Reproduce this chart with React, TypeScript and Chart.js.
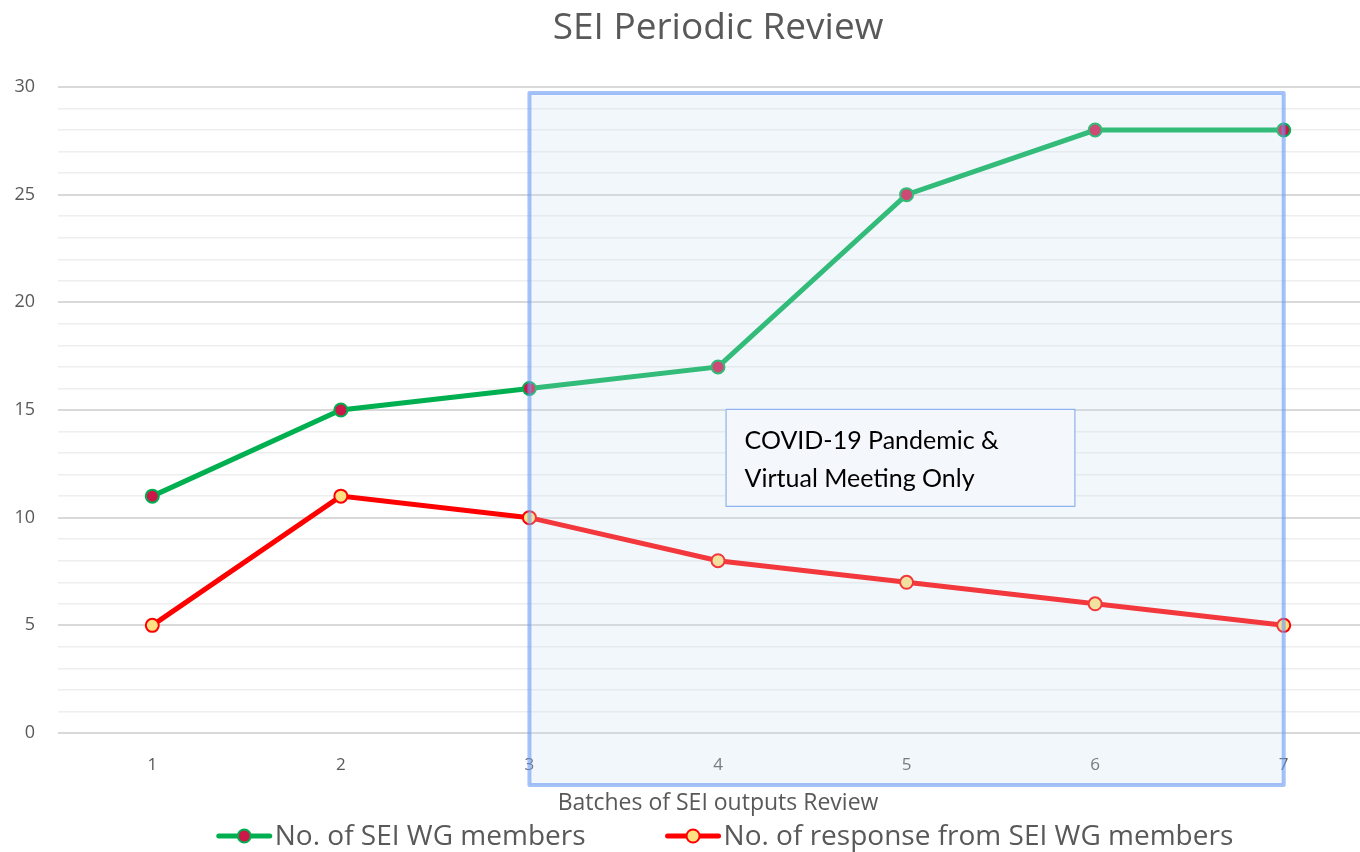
import React, { useEffect, useRef } from "react";
import { Chart, registerables } from "chart.js";

Chart.register(...registerables);

const categories = ["1", "2", "3", "4", "5", "6", "7"];
const wgMembers = [11, 15, 16, 17, 25, 28, 28];
const responses = [5, 11, 10, 8, 7, 6, 5];
const yTicks = [0, 5, 10, 15, 20, 25, 30];

const titleText = "SEI Periodic Review";
const xTitleText = "Batches of SEI outputs Review";
const seriesNames = ["No. of SEI WG members", "No. of response from SEI WG members"];
const noteLines = ["COVID-19 Pandemic &", "Virtual Meeting Only"];
// highlight region in category-index / value units
const highlightX = [2, 6];
const highlightY = [29.72, -2.42];
const noteX = [3.04, 4.89];
const noteY = [15.05, 10.55];

const GREEN = "#00b050";
const RED = "#ff0000";
const GREEN_PT = "#cc1848";
const RED_PT = "#ffe083";
const TEXT = "#595959";
const FONT = "'Open Sans', sans-serif";
const NOTE_FONT = "Lato, sans-serif";

const seriesColors = [
  [GREEN, GREEN_PT],
  [RED, RED_PT],
];

const overlayPlugin = {
  id: "overlay",
  afterLayout(chart: any) {
    if (chart.titleBlock) {
      chart.titleBlock.left = 0;
      chart.titleBlock.right = chart.width;
      chart.titleBlock.width = chart.width;
    }
  },
  afterDatasetsDraw(chart: any) {
    const { ctx, scales } = chart;
    const xs = scales.x;
    const ys = scales.y;
    const x0 = xs.getPixelForValue(highlightX[0]);
    const x1 = xs.getPixelForValue(highlightX[1]);
    const y0 = ys.getPixelForValue(highlightY[0]);
    const y1 = ys.getPixelForValue(highlightY[1]);
    ctx.save();
    ctx.fillStyle = "rgba(205,222,242,0.25)";
    ctx.fillRect(x0, y0, x1 - x0, y1 - y0);
    ctx.lineWidth = 4;
    ctx.lineJoin = "round";
    ctx.strokeStyle = "rgba(100,150,245,0.58)";
    ctx.strokeRect(x0, y0, x1 - x0, y1 - y0);

    const nx0 = xs.getPixelForValue(noteX[0]);
    const nx1 = xs.getPixelForValue(noteX[1]);
    const ny0 = ys.getPixelForValue(noteY[0]);
    const ny1 = ys.getPixelForValue(noteY[1]);
    ctx.fillStyle = "#f4f7fb";
    ctx.fillRect(nx0, ny0, nx1 - nx0, ny1 - ny0);
    ctx.lineWidth = 1.2;
    ctx.strokeStyle = "#8fb3ef";
    ctx.strokeRect(nx0 + 0.5, ny0 + 0.5, nx1 - nx0, ny1 - ny0);
    ctx.fillStyle = "#000000";
    ctx.font = `25px ${NOTE_FONT}`;
    ctx.textAlign = "left";
    ctx.textBaseline = "middle";
    noteLines.forEach((t, i) => {
      ctx.fillText(t, nx0 + 19, ny0 + 32 + i * 38);
    });
    ctx.restore();
  },
  afterDraw(chart: any) {
    const { ctx } = chart;
    ctx.save();
    ctx.font = `28px ${FONT}`;
    ctx.textBaseline = "middle";
    ctx.textAlign = "left";
    const iconW = 55;
    const gapText = 3;
    const gapItem = 80;
    const widths = seriesNames.map((n) => iconW + gapText + ctx.measureText(n).width);
    const total = widths.reduce((a, b) => a + b, 0) + gapItem * (seriesNames.length - 1);
    let x = 725 - total / 2;
    const y = 836;
    seriesNames.forEach((name, i) => {
      const [line, fill] = seriesColors[i];
      ctx.strokeStyle = line;
      ctx.lineWidth = 5;
      ctx.lineCap = "round";
      ctx.beginPath();
      ctx.moveTo(x + 2, y);
      ctx.lineTo(x + iconW - 2, y);
      ctx.stroke();
      ctx.beginPath();
      ctx.arc(x + iconW / 2, y, 6.5, 0, Math.PI * 2);
      ctx.fillStyle = fill;
      ctx.fill();
      ctx.lineWidth = 2;
      ctx.stroke();
      ctx.fillStyle = TEXT;
      ctx.fillText(name, x + iconW + gapText, y + 1);
      x += widths[i] + gapItem;
    });
    ctx.restore();
  },
};

export default function App() {
  const ref = useRef<HTMLCanvasElement>(null);
  useEffect(() => {
    if (!ref.current) return;
    const chart = new Chart(ref.current, {
      type: "line",
      data: {
        labels: categories,
        datasets: [
          {
            label: seriesNames[0],
            data: wgMembers,
            borderColor: GREEN,
            backgroundColor: GREEN_PT,
            borderWidth: 5,
            pointRadius: 6.5,
            pointBorderWidth: 2,
            pointBorderColor: GREEN,
            pointBackgroundColor: GREEN_PT,
            tension: 0,
          },
          {
            label: seriesNames[1],
            data: responses,
            borderColor: RED,
            backgroundColor: RED_PT,
            borderWidth: 5,
            pointRadius: 6.5,
            pointBorderWidth: 2,
            pointBorderColor: RED,
            pointBackgroundColor: RED_PT,
            tension: 0,
          },
        ],
      },
      options: {
        responsive: false,
        animation: false,
        layout: { padding: { left: 15, right: 58, top: 0, bottom: 35 } },
        plugins: {
          title: {
            display: true,
            text: titleText,
            color: TEXT,
            font: { family: FONT, size: 37, weight: "normal" },
            padding: { top: 6, bottom: 36.6 },
          },
          legend: { display: false },
          tooltip: { enabled: false },
        },
        scales: {
          x: {
            type: "category",
            offset: true,
            grid: { display: false, drawTicks: false },
            border: { display: false },
            afterFit: (axis: any) => {
              axis.height = 84;
            },
            ticks: {
              color: TEXT,
              font: { family: FONT, size: 17 },
              padding: 22,
            },
            title: {
              display: true,
              text: xTitleText,
              color: TEXT,
              font: { family: FONT, size: 23 },
              padding: { top: 13, bottom: 0 },
            },
          },
          y: {
            min: 0,
            max: 30,
            border: { display: false },
            afterFit: (axis: any) => {
              axis.width = 43;
            },
            afterBuildTicks: (axis: any) => {
              const t: any[] = [];
              for (let v = 0; v <= 30; v++) t.push({ value: v });
              axis.ticks = t;
            },
            grid: {
              drawTicks: false,
              color: (c: any) => (c.tick && c.tick.value % 5 === 0 ? "#d9d9d9" : "#eeeeee"),
              lineWidth: (c: any) => (c.tick && c.tick.value % 5 === 0 ? 2 : 1.5),
            },
            ticks: {
              autoSkip: false,
              color: TEXT,
              font: { family: FONT, size: 18 },
              padding: 23,
              callback: (v: any) => (yTicks.includes(Number(v)) ? String(v) : ""),
            },
          },
        },
      },
      plugins: [overlayPlugin],
    });
    return () => chart.destroy();
  }, []);
  return (
    <div
      style={{
        position: "fixed",
        left: 0,
        top: 0,
        width: 1360,
        height: 852,
        overflow: "hidden",
        background: "#ffffff",
      }}
    >
      <canvas ref={ref} width={1436} height={852} style={{ display: "block" }} />
    </div>
  );
}
